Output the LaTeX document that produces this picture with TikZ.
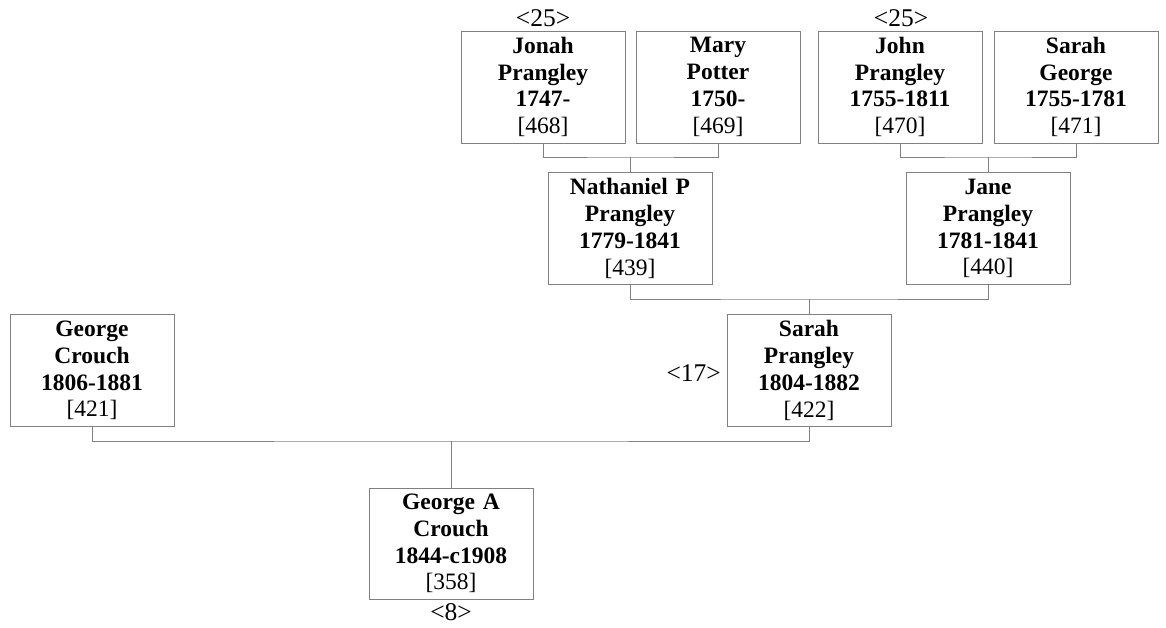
\documentclass[tikz,border=0pt]{standalone}
\usepackage{fontspec}
\setmainfont{Liberation Serif}
\tikzset{
  person/.style={draw=black!50, line width=0.9pt, minimum width=164pt, minimum height=112pt, text width=162pt, inner sep=0pt, align=center, font=\fontsize{23.5}{26.8}\selectfont, text=black},
  link/.style={draw=black!50, line width=0.9pt},
  tag/.style={font=\fontsize{25.5}{26}\selectfont, inner sep=0pt}
}
\newcommand{\pn}[2]{{\bfseries #1}\\{#2}}
\begin{document}
\begin{tikzpicture}[x=1pt,y=-1pt]
\useasboundingbox (0,0) rectangle (1166,627);
\node[person] (jonah) at (543,87) {\pn{Jonah\\Prangley\\1747-}{[468]}};
\node[person] (mary) at (718,87) {\pn{Mary\\Potter\\1750-}{[469]}};
\node[person] (john) at (900,87) {\pn{John\\Prangley\\1755-1811}{[470]}};
\node[person] (sarahg) at (1076,87) {\pn{Sarah\\George\\1755-1781}{[471]}};
\node[person] (nath) at (630,228.5) {\pn{Nathaniel P\\Prangley\\1779-1841}{[439]}};
\node[person] (jane) at (988,228.5) {\pn{Jane\\Prangley\\1781-1841}{[440]}};
\node[person] (georgec) at (92,370.5) {\pn{George\\Crouch\\1806-1881}{[421]}};
\node[person] (sarahp) at (809,370.5) {\pn{Sarah\\Prangley\\1804-1882}{[422]}};
\node[person, minimum height=111pt] (georgea) at (451,543.5) {\pn{George A\\Crouch\\1844-c1908}{[358]}};
\node[tag, anchor=base] (t1) at (543,26) {<25>};
\node[tag, anchor=base] (t2) at (901,26) {<25>};
\node[tag, anchor=base east] (t3) at (721,381) {<17>};
\node[tag, anchor=base] (t4) at (451,620) {<8>};
\coordinate (c1) at (630,157);
\coordinate (c2) at (988,157);
\coordinate (c3) at (809,299);
\coordinate (c4) at (451,441);
\draw[link] (jonah.south) |- (c1) -| (mary.south);
\draw[link] (c1) -- (nath.north);
\draw[link] (john.south) |- (c2) -| (sarahg.south);
\draw[link] (c2) -- (jane.north);
\draw[link] (nath.south) |- (c3) -| (jane.south);
\draw[link] (c3) -- (sarahp.north);
\draw[link] (georgec.south) |- (c4) -| (sarahp.south);
\draw[link] (c4) -- (georgea.north);
\end{tikzpicture}
\end{document}
